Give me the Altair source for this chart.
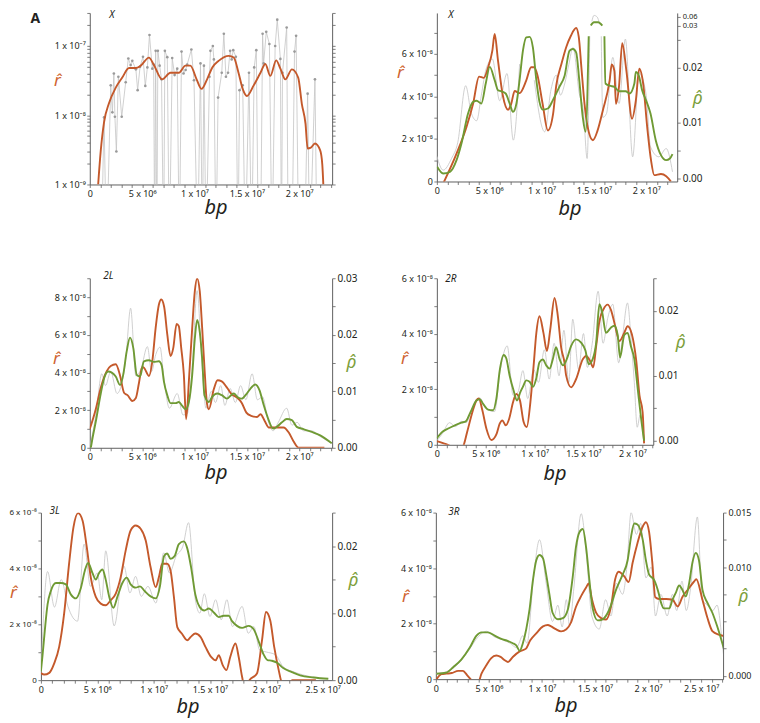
import altair as alt
import pandas as pd

# ---------------- data (x in Mb, r in units of 1e-8, rho raw) ----------------
# Panel X (log scale): smoothed r and raw windowed r (0 = no estimate / zero)
X_LOG_RED = [(0.8, 0.1), (1.05, 0.31), (1.36, 0.79), (1.84, 1.5), (2.48, 2.5), (3.1, 3.5), (3.75, 4.8),
             (4.4, 4.8), (4.86, 5.2), (5.65, 6.8), (6.1, 5.4), (6.9, 3.3), (7.7, 4.1), (8.5, 4.1),
             (9.14, 5.2), (9.6, 5.2), (10.2, 3.3), (10.67, 2.4), (11.2, 3.3), (11.7, 4.9), (12.3, 6.1),
             (13.27, 7.2), (13.75, 6.8), (14.2, 4.1), (14.6, 2.4), (15.0, 1.9), (15.65, 2.7), (16.3, 4.1),
             (16.76, 5.5), (17.24, 3.7), (17.8, 6.2), (18.2, 4.7), (18.67, 3.3), (19.3, 4.6), (19.9, 3.5),
             (20.25, 1.45), (20.6, 0.75), (20.8, 0.33), (21.1, 0.34), (21.5, 0.39), (22.0, 0.31),
             (22.2, 0.195), (22.3, 0.1)]
X_LOG_RAW = [(1.1, 0), (1.36, 0.93), (1.6, 0), (2.0, 2.7), (2.16, 1.1), (2.3, 4.0), (2.4, 0.95), (2.54, 0.3),
             (2.73, 3.6), (3.05, 0.95), (3.43, 3.0), (3.68, 6.6), (3.9, 5.3), (4.06, 6.1), (4.4, 4.6),
             (4.57, 2.3), (4.8, 5.0), (5.08, 7.0), (5.3, 2.65), (5.5, 4.9), (5.7, 14.4), (5.97, 4.7),
             (6.1, 5.4), (6.2, 0), (6.29, 8.5), (6.4, 0), (6.5, 8.5), (6.67, 5.2), (6.85, 3.3), (7.05, 0),
             (7.17, 8.5), (7.4, 6.9), (7.6, 0), (7.87, 6.7), (8.1, 3.8), (8.35, 4.7), (8.55, 0), (8.76, 8.3),
             (8.95, 4.0), (9.15, 4.5), (9.3, 5.4), (9.7, 8.9), (9.95, 3.2), (10.3, 0), (10.57, 5.6),
             (10.75, 0), (10.9, 5.2), (11.1, 0), (11.43, 3.6), (11.52, 8.5), (11.75, 10.0), (11.85, 6.4),
             (12.05, 0), (12.25, 1.8), (12.6, 4.1), (12.8, 15.0), (13.0, 3.6), (13.2, 4.1), (13.4, 8.5),
             (13.55, 6.4), (13.7, 8.7), (13.95, 7.0), (14.15, 0), (14.3, 2.3), (14.6, 2.7), (14.85, 0),
             (15.2, 4.1), (15.45, 0), (15.7, 4.9), (15.9, 8.7), (16.1, 0), (16.3, 0), (16.5, 15.0),
             (16.6, 5.6), (16.85, 16.0), (17.15, 10.7), (17.4, 0), (17.7, 10.0), (17.9, 24.0), (18.2, 6.5),
             (18.3, 0), (18.4, 4.1), (18.8, 18.5), (18.95, 0), (19.3, 0), (19.55, 8.3), (19.7, 14.0),
             (19.95, 0), (20.5, 0), (20.8, 2.05), (21.0, 0), (21.5, 3.3), (21.7, 0)]

# Panel X (linear, broken rho axis)
X_RED = [(0.6, -0.1), (1.88, 1.31), (2.83, 2.56), (3.46, 3.65), (4.03, 4.93), (4.48, 4.87), (4.9, 5.37),
         (5.3, 6.15), (5.52, 6.93), (5.84, 5.68), (6.3, 4.04), (6.8, 3.37), (7.1, 3.65), (7.43, 4.25),
         (7.9, 4.15), (8.54, 4.75), (9.0, 5.37), (9.3, 5.37), (9.6, 5.0), (10.1, 3.65), (10.6, 2.4),
         (11.1, 3.18), (11.4, 4.51), (11.9, 5.53), (12.35, 6.31), (12.8, 6.85), (13.3, 7.21), (13.55, 6.8),
         (13.8, 5.37), (14.1, 3.65), (14.4, 2.56), (14.9, 1.94), (15.35, 2.4), (15.85, 3.34), (16.5, 4.75),
         (16.7, 5.5), (16.95, 5.2), (17.1, 3.65), (17.4, 4.5), (17.7, 6.5), (18.1, 5.2), (18.64, 2.95),
         (19.0, 3.8), (19.33, 5.3), (19.7, 4.6), (20.1, 2.48), (20.45, 1.0), (20.76, 0.3), (21.4, 0.35),
         (21.9, 0.25), (22.35, 0.0)]
X_RHO = [(0.03, 0.0021), (0.6, 0.0009), (1.25, 0.0012), (1.88, 0.0033), (2.35, 0.0063), (2.98, 0.0117),
         (3.46, 0.0138), (3.8, 0.014), (4.25, 0.0135), (4.67, 0.0171), (5.05, 0.0201), (5.52, 0.0177),
         (5.84, 0.0159), (6.15, 0.0157), (6.57, 0.0153), (6.95, 0.0135), (7.27, 0.012), (7.6, 0.0135),
         (7.9, 0.0177), (8.22, 0.023), (8.54, 0.0254), (8.86, 0.0255), (9.17, 0.0236), (9.5, 0.0177),
         (9.8, 0.0138), (10.1, 0.0124), (10.6, 0.0126), (11.08, 0.0141), (11.7, 0.0165), (12.2, 0.0185),
         (12.67, 0.023), (13.0, 0.0233), (13.3, 0.0227), (13.6, 0.0177), (13.93, 0.0111), (14.2, 0.0084),
         (14.5, 0.0256), (14.55, 0.028), (14.7, 0.031), (15.0, 0.042), (15.4, 0.042), (15.8, 0.031),
         (15.85, 0.028), (16.0, 0.0256), (16.1, 0.0171), (16.5, 0.0167), (16.95, 0.0165), (17.4, 0.0157),
         (18.03, 0.0157), (18.4, 0.0153), (18.86, 0.0171), (19.0, 0.0192), (19.27, 0.0186), (19.6, 0.0159),
         (19.97, 0.0141), (20.4, 0.0117), (20.9, 0.0069), (21.4, 0.0042), (21.9, 0.0033), (22.25, 0.0036),
         (22.5, 0.0044)]
X_RHO_RAW = [(0.0, 0.004), (0.6, 0.0015), (1.4, 0.0036), (2.0, 0.0065), (2.75, 0.0167), (3.3, 0.0117),
             (3.8, 0.0104), (4.25, 0.015), (4.7, 0.0197), (5.3, 0.0215), (6.0, 0.014), (6.7, 0.0189),
             (7.3, 0.0069), (7.9, 0.0206), (8.5, 0.0257), (9.3, 0.0177), (10.3, 0.0084), (10.9, 0.016),
             (11.4, 0.0186), (11.8, 0.015), (12.2, 0.017), (12.6, 0.0205), (13.0, 0.0236), (13.6, 0.0153),
             (14.0, 0.012), (14.35, 0.0036), (14.6, 0.0256), (14.65, 0.028), (14.8, 0.045), (15.0, 0.065),
             (15.3, 0.06), (15.55, 0.035), (15.6, 0.028), (15.7, 0.0256), (15.85, 0.011), (16.2, 0.0117),
             (16.8, 0.0218), (17.4, 0.0135), (18.0, 0.0251), (18.7, 0.0039), (19.3, 0.019), (19.97, 0.0153),
             (20.4, 0.0057), (21.2, 0.0039), (21.9, 0.0054), (22.5, 0.0012)]

# Panel 2L
L2_RED = [(0.0, 1.0), (0.57, 2.05), (1.05, 3.2), (1.62, 4.08), (2.0, 4.35), (2.48, 4.44), (2.9, 3.82),
          (3.27, 2.93), (3.6, 2.8), (4.06, 2.49), (4.4, 2.65), (4.7, 3.46), (5.0, 4.3), (5.17, 4.26),
          (5.65, 3.82), (5.97, 4.6), (6.29, 6.38), (6.6, 7.62), (6.83, 7.89), (7.1, 7.5), (7.4, 6.03),
          (7.71, 4.88), (7.97, 5.3), (8.29, 6.59), (8.5, 6.47), (8.73, 5.32), (8.98, 3.91), (9.2, 1.52),
          (9.5, 3.9), (9.78, 6.38), (10.03, 8.33), (10.25, 9.0), (10.5, 8.33), (10.73, 6.38), (10.95, 4.26),
          (11.2, 2.32), (11.37, 2.05), (11.84, 3.11), (12.2, 3.59), (12.6, 3.53), (13.1, 3.2), (13.56, 2.84),
          (14.06, 2.67), (14.5, 2.4), (14.95, 1.87), (15.4, 1.7), (15.97, 1.64), (16.3, 1.78), (16.7, 1.43),
          (17.1, 1.08), (17.85, 1.08), (18.5, 1.08), (19.0, 0.81), (19.45, 0.35), (19.94, 0.0), (22.4, 0.0)]
L2_RHO = [(0.1, 0.0), (0.25, 0.0016), (0.57, 0.0046), (1.05, 0.0096), (1.37, 0.0123), (1.75, 0.0135),
          (2.1, 0.0133), (2.48, 0.0126), (2.9, 0.0111), (3.2, 0.013), (3.52, 0.017), (3.84, 0.0195),
          (4.16, 0.0176), (4.48, 0.0129), (4.8, 0.0126), (5.17, 0.0153), (5.65, 0.0155), (6.1, 0.0152),
          (6.6, 0.0153), (6.86, 0.0146), (7.08, 0.0117), (7.4, 0.0093), (7.7, 0.0079), (8.2, 0.0079),
          (8.5, 0.0081), (8.83, 0.0074), (9.14, 0.0068), (9.46, 0.0081), (9.78, 0.0129), (10.03, 0.0193),
          (10.25, 0.0226), (10.5, 0.0205), (10.73, 0.0158), (10.95, 0.0093), (11.37, 0.0081), (11.68, 0.009),
          (12.16, 0.0096), (12.6, 0.0093), (13.1, 0.0087), (13.5, 0.0093), (13.75, 0.0096), (14.1, 0.009),
          (14.5, 0.0087), (14.99, 0.0096), (15.5, 0.0108), (15.8, 0.0112), (16.2, 0.0102), (16.6, 0.0076),
          (17.08, 0.0049), (17.5, 0.0034), (17.85, 0.0037), (18.35, 0.0045), (18.8, 0.0051), (19.3, 0.0049),
          (19.76, 0.0037), (20.4, 0.0033), (21.2, 0.0028), (22.0, 0.0022), (23.1, 0.0008)]
L2_RHO_RAW = [(0.0, 0.0), (0.6, 0.006), (1.15, 0.0131), (1.5, 0.011), (2.0, 0.0135), (2.6, 0.0096),
              (3.0, 0.011), (3.45, 0.016), (3.9, 0.0247), (4.4, 0.0127), (4.9, 0.014), (5.5, 0.0179),
              (5.9, 0.0135), (6.3, 0.0165), (6.7, 0.0178), (7.1, 0.012), (7.6, 0.007), (8.35, 0.0096),
              (8.9, 0.0058), (9.3, 0.006), (9.8, 0.015), (10.25, 0.0278), (10.7, 0.015), (11.1, 0.007),
              (11.6, 0.01), (12.0, 0.008), (12.5, 0.011), (12.9, 0.0075), (13.4, 0.0105), (13.9, 0.008),
              (14.4, 0.011), (14.9, 0.0085), (15.5, 0.0131), (16.0, 0.0085), (16.5, 0.009), (17.0, 0.005),
              (17.5, 0.003), (18.0, 0.0045), (18.8, 0.007), (19.3, 0.004), (19.8, 0.0045), (20.4, 0.003),
              (21.2, 0.003), (22.0, 0.002), (23.1, 0.0008)]

# Panel 2R
R2_RED = [(0.0, 0.13), (0.7, 0.05), (1.33, -0.04), (2.0, -0.3), (2.7, -0.05), (3.1, 0.46), (3.64, 1.18),
          (4.05, 1.6), (4.3, 1.67), (4.65, 1.25), (5.07, 0.58), (5.58, 0.17), (6.1, 0.38), (6.43, 0.76),
          (6.7, 0.88), (7.05, 0.7), (7.4, 0.94), (7.8, 1.54), (8.13, 1.83), (8.5, 1.6), (8.88, 0.82),
          (9.2, 0.64), (9.57, 1.54), (9.9, 2.85), (10.17, 4.0), (10.5, 4.63), (10.9, 4.04), (11.26, 3.38),
          (11.6, 4.15), (12.04, 5.29), (12.38, 4.63), (12.72, 3.5), (13.06, 2.96), (13.23, 2.49),
          (13.74, 2.07), (14.25, 2.37), (14.93, 3.08), (15.27, 3.2), (15.68, 3.02), (16.0, 2.79),
          (16.3, 3.56), (16.63, 4.45), (17.03, 4.87), (17.48, 5.05), (17.8, 4.87), (18.25, 4.27),
          (18.67, 3.74), (19.18, 4.04), (19.52, 4.27), (19.95, 3.98), (20.4, 3.02), (20.73, 1.78),
          (21.05, 1.18), (21.2, 0.05)]
R2_RHO = [(0.0, 0.0004), (0.5, 0.0013), (1.16, 0.0019), (1.84, 0.0024), (2.52, 0.0028), (2.96, 0.003),
          (3.44, 0.0044), (4.05, 0.0062), (4.39, 0.0064), (4.73, 0.0057), (5.24, 0.0048), (5.75, 0.0047),
          (6.09, 0.0065), (6.43, 0.0108), (6.84, 0.0132), (7.1, 0.0127), (7.45, 0.01), (7.86, 0.0077),
          (8.2, 0.0062), (8.54, 0.0075), (8.8, 0.0083), (9.15, 0.0093), (9.49, 0.0091), (9.83, 0.0083),
          (10.17, 0.0096), (10.5, 0.0121), (10.85, 0.0125), (11.19, 0.0116), (11.53, 0.0111), (11.87, 0.0126),
          (12.2, 0.0144), (12.55, 0.0126), (12.9, 0.0116), (13.3, 0.0126), (13.74, 0.0146), (14.25, 0.0156),
          (14.76, 0.0151), (15.2, 0.0139), (15.54, 0.0118), (15.95, 0.0126), (16.3, 0.0151), (16.63, 0.021),
          (16.9, 0.0199), (17.3, 0.0166), (17.8, 0.0174), (18.16, 0.0177), (18.5, 0.0163), (18.74, 0.0128),
          (19.18, 0.0163), (19.52, 0.0166), (19.86, 0.0145), (20.2, 0.0126), (20.55, 0.008), (20.9, 0.0034),
          (21.2, 0.0)]
R2_RHO_RAW = [(0.0, 0.0), (0.6, 0.0012), (1.3, 0.0028), (1.9, 0.0022), (2.5, 0.003), (3.0, 0.0028),
              (3.6, 0.005), (4.4, 0.0066), (5.0, 0.005), (5.9, 0.0045), (6.5, 0.011), (7.2, 0.0146),
              (7.8, 0.007), (8.3, 0.0075), (8.8, 0.0108), (9.3, 0.0065), (9.9, 0.011), (10.4, 0.009),
              (11.0, 0.014), (11.5, 0.0095), (12.0, 0.015), (12.5, 0.01), (13.0, 0.017), (13.5, 0.009),
              (13.9, 0.0187), (14.5, 0.011), (15.0, 0.0165), (15.4, 0.0113), (15.9, 0.015), (16.5, 0.023),
              (17.0, 0.015), (17.5, 0.019), (18.0, 0.021), (18.6, 0.012), (19.0, 0.016), (19.5, 0.0212),
              (19.9, 0.015), (20.2, 0.009), (20.5, 0.0021), (20.8, 0.004), (21.2, 0.0)]

# Panel 3L
L3_RED = [(0.0, 0.26), (0.3, 0.2), (0.74, 0.26), (1.18, 0.6), (1.62, 1.19), (2.06, 2.38), (2.5, 4.17),
          (2.89, 5.48), (3.3, 5.98), (3.7, 5.71), (4.07, 4.76), (4.42, 3.69), (4.87, 2.98), (5.31, 2.74),
          (5.75, 2.68), (6.19, 2.86), (6.64, 3.1), (7.08, 3.69), (7.52, 4.64), (7.96, 5.36), (8.41, 5.54),
          (8.85, 5.42), (9.3, 5.0), (9.73, 4.05), (10.18, 3.33), (10.47, 3.69), (10.77, 4.17), (11.2, 4.17),
          (11.5, 3.93), (11.8, 2.98), (12.1, 1.9), (12.5, 1.67), (12.98, 1.43), (13.3, 1.55), (13.7, 1.67),
          (14.16, 1.55), (14.6, 1.19), (15.1, 0.83), (15.5, 0.71), (15.78, 0.89), (16.13, 0.54),
          (16.46, 0.36), (16.8, 0.83), (17.26, 1.31), (17.55, 0.83), (17.85, 0.12), (18.1, -0.3),
          (18.5, 0.0), (19.17, 0.24), (19.62, 1.43), (19.97, 2.44), (20.35, 2.14), (20.7, 1.19),
          (21.1, 0.36), (21.4, -0.1), (21.9, -0.15), (22.3, 0.0), (24.4, 0.0)]
L3_RHO = [(0.0, 0.0013), (0.15, 0.0038), (0.35, 0.0075), (0.59, 0.0113), (0.88, 0.0133), (1.33, 0.0145),
          (1.77, 0.0145), (2.21, 0.0143), (2.65, 0.0128), (3.1, 0.0122), (3.54, 0.0137), (3.89, 0.0163),
          (4.19, 0.0175), (4.57, 0.016), (4.87, 0.015), (5.16, 0.016), (5.46, 0.0165), (5.75, 0.015),
          (6.05, 0.0125), (6.43, 0.0108), (6.8, 0.0125), (7.23, 0.0145), (7.61, 0.0153), (7.96, 0.0143),
          (8.41, 0.0138), (8.79, 0.014), (9.2, 0.0133), (9.73, 0.0125), (10.18, 0.0122), (10.56, 0.014),
          (10.92, 0.0185), (11.2, 0.0189), (11.5, 0.0181), (11.86, 0.0185), (12.24, 0.0203), (12.68, 0.0207),
          (12.98, 0.0197), (13.33, 0.0168), (13.7, 0.0128), (14.1, 0.0109), (14.5, 0.0104), (14.9, 0.0107),
          (15.34, 0.0101), (15.78, 0.0094), (16.22, 0.0096), (16.67, 0.0096), (16.96, 0.0088), (17.4, 0.0081),
          (17.85, 0.0078), (18.44, 0.0081), (18.88, 0.0076), (19.32, 0.0058), (19.77, 0.0038), (20.1, 0.003),
          (20.5, 0.0029), (20.96, 0.0026), (21.5, 0.0018), (22.27, 0.0012), (23.0, 0.0007), (24.2, 0.0004),
          (25.5, 0.0002)]
L3_RHO_RAW = [(0.0, 0.001), (0.59, 0.0162), (1.2, 0.0109), (1.8, 0.015), (2.4, 0.011), (3.25, 0.0088),
              (3.83, 0.0203), (4.4, 0.014), (5.0, 0.016), (5.4, 0.012), (5.75, 0.0193), (6.5, 0.0081),
              (7.37, 0.017), (7.9, 0.013), (8.4, 0.0155), (8.9, 0.0125), (9.5, 0.014), (10.2, 0.0115),
              (10.9, 0.019), (11.4, 0.016), (12.0, 0.0185), (12.6, 0.02), (13.1, 0.0235), (13.7, 0.012),
              (14.1, 0.01), (14.5, 0.0129), (15.0, 0.0095), (15.5, 0.012), (16.0, 0.009), (16.5, 0.012),
              (17.0, 0.008), (17.85, 0.011), (18.4, 0.007), (18.9, 0.008), (19.4, 0.0045), (20.0, 0.0042),
              (20.8, 0.0038), (21.5, 0.002), (22.5, 0.0012), (24.0, 0.0005), (25.5, 0.0002)]

# Panel 3R
R3_RED = [(0.06, 0.0), (0.53, 0.18), (1.0, 0.2), (1.5, 0.22), (2.1, 0.3), (2.54, 0.3), (3.0, 0.12),
          (3.5, -0.1), (3.88, -0.25), (4.3, 0.2), (4.76, 0.5), (5.2, 0.75), (5.7, 0.85), (6.1, 0.8),
          (6.5, 0.68), (6.8, 0.62), (7.25, 0.8), (7.9, 1.0), (8.5, 1.1), (8.9, 1.4), (9.46, 1.65),
          (10.1, 1.9), (10.55, 1.95), (10.86, 1.9), (11.3, 1.8), (11.8, 1.72), (12.3, 1.8), (12.75, 2.05),
          (13.2, 2.6), (13.7, 3.0), (14.16, 3.3), (14.4, 3.45), (14.7, 2.9), (15.1, 2.4), (15.57, 2.2),
          (16.04, 2.15), (16.5, 2.6), (16.9, 3.6), (17.23, 3.87), (17.76, 3.7), (18.17, 3.5), (18.55, 4.2),
          (19.0, 4.9), (19.5, 5.5), (19.8, 5.65), (20.1, 5.3), (20.4, 4.2), (20.68, 2.95), (21.05, 2.89),
          (21.7, 2.89), (22.3, 2.86), (22.8, 2.62), (23.26, 2.98), (23.7, 3.2), (24.3, 3.5), (24.55, 3.6),
          (25.1, 2.9), (25.6, 2.2), (26.06, 1.73), (26.7, 1.6), (27.3, 1.55), (27.45, 1.57)]
R3_RHO = [(0.06, 0.0002), (1.0, 0.0003), (1.63, 0.0008), (2.4, 0.0015), (3.2, 0.0026), (3.83, 0.0037),
          (4.3, 0.004), (4.9, 0.004), (5.54, 0.0037), (6.17, 0.0034), (6.8, 0.0032), (7.25, 0.003),
          (7.58, 0.0028), (7.9, 0.0023), (8.2, 0.003), (8.52, 0.0043), (8.83, 0.0061), (9.15, 0.0088),
          (9.46, 0.0106), (9.77, 0.0111), (10.1, 0.0108), (10.4, 0.0093), (10.7, 0.0075), (11.0, 0.0058),
          (11.5, 0.0052), (11.97, 0.0053), (12.44, 0.0061), (12.9, 0.0091), (13.2, 0.0118), (13.53, 0.0132),
          (13.85, 0.0135), (14.16, 0.0118), (14.47, 0.0088), (14.78, 0.0062), (15.25, 0.0051), (15.72, 0.0052),
          (16.35, 0.0061), (16.98, 0.0079), (17.6, 0.0093), (18.07, 0.0106), (18.4, 0.0128), (18.7, 0.014),
          (19.0, 0.0139), (19.5, 0.0125), (19.8, 0.0106), (20.1, 0.0093), (20.58, 0.0088), (21.0, 0.0076),
          (21.2, 0.0068), (21.5, 0.0062), (22.0, 0.0062), (22.3, 0.007), (22.6, 0.0076), (22.93, 0.0083),
          (23.24, 0.0079), (23.56, 0.0073), (23.87, 0.0085), (24.2, 0.0105), (24.5, 0.0113), (24.8, 0.0106),
          (25.13, 0.0079), (25.6, 0.0067), (26.06, 0.0058), (26.5, 0.0046), (27.0, 0.003), (27.5, 0.0012)]
R3_RHO_RAW = [(0.0, 0.0002), (1.0, 0.0004), (2.0, 0.001), (3.0, 0.0022), (4.0, 0.0036), (4.76, 0.0041),
              (5.5, 0.0036), (6.3, 0.0033), (7.0, 0.003), (7.6, 0.0026), (8.2, 0.0037), (8.6, 0.003),
              (9.2, 0.009), (9.77, 0.0125), (10.4, 0.0085), (11.0, 0.005), (11.5, 0.0065), (11.9, 0.0045),
              (12.3, 0.007), (12.6, 0.0046), (13.0, 0.008), (13.7, 0.0149), (14.2, 0.011), (14.7, 0.0055),
              (15.4, 0.0043), (16.0, 0.007), (16.5, 0.0055), (17.0, 0.0085), (17.6, 0.0075), (18.0, 0.01),
              (18.4, 0.015), (18.9, 0.013), (19.3, 0.014), (19.8, 0.009), (20.3, 0.01), (20.7, 0.0055),
              (21.2, 0.0075), (21.8, 0.0055), (22.3, 0.0075), (22.7, 0.006), (23.2, 0.0087), (23.6, 0.006),
              (24.0, 0.008), (24.65, 0.0146), (25.1, 0.007), (25.6, 0.0065), (26.1, 0.006), (26.5, 0.0065),
              (27.0, 0.003), (27.3, 0.0)]

# ---------------- styling ----------------
FONT = "Noto Sans"
RED = "#c4592b"
GREEN = "#6f9a34"
GRAY = "#c4c4c4"
AXC = "#5f5f5f"
TXT = "#231f20"
RHAT = "r\u0302"
RHOHAT = "\u03c1\u0302"

X_EXPR = ("datum.value == 0 ? '0' : (datum.value % 5 != 0 ? '' : (datum.value < 10 ? "
          "datum.value + ' x 10\u2076' : (datum.value / 10) + ' x 10\u2077'))")
R_EXPR = "datum.value == 0 ? '0' : (datum.value % 2 != 0 ? '' : datum.value + ' x 10\u207b\u2078')"
RHO_EXPR = "abs(datum.value * 100 - round(datum.value * 100)) < 0.001 ? format(datum.value, '.2f') : ''"
RHO_BROKEN_EXPR = ("datum.value > 0.0285 ? '0.06' : (datum.value > 0.027 ? '0.03' : (" + RHO_EXPR + "))")
RHO3_EXPR = ("abs(datum.value) < 1e-9 ? '0.000' : (abs(datum.value - 0.01) < 1e-9 ? '0.010' : "
             "(abs(datum.value - 0.015) < 1e-9 ? '0.015' : ''))")
LOG_EXPR = ("datum.value == 10 ? '1 x 10\u207b\u2077' : (datum.value == 1 ? '1 x 10\u207b\u2078' : "
            "(datum.value == 0.1 ? '1 x 10\u207b\u2079' : ''))")
BROKEN_CALC = ("datum.rho <= 0.0256 ? datum.rho : (datum.rho >= 0.03 ? "
               "0.02747 + (datum.rho - 0.03) * 0.054 : null)")
LOG_VALUES = [0.1, 0.2, 0.3, 0.4, 0.5, 0.6, 0.7, 0.8, 0.9, 1, 2, 3, 4, 5, 6, 7, 8, 9, 10, 20, 30]


def xscale(xmax):
    return alt.Scale(domain=[0, xmax], nice=False, zero=False)


def label_axis(text, tx, ty, size=10, weight="normal", style="italic"):
    return alt.Axis(orient="top", domain=False, ticks=False, labels=False, grid=False,
                    title=text, titleX=tx, titleY=ty, titleAngle=0, titleAlign="left",
                    titleBaseline="top", titleFont=FONT, titleFontSize=size, titleFontStyle=style,
                    titleFontWeight=weight, titleColor=TXT)


def bottom_axis(xmax, bx, by, lfs):
    return alt.Axis(orient="bottom", values=list(range(0, int(xmax) + 1)), labelExpr=X_EXPR,
                    tickSize=3, labelPadding=2, labelFontSize=lfs, labelFlush=False,
                    labelOverlap=False, grid=False, title="bp", titleX=bx, titleY=by, titleAngle=0,
                    titleAlign="center", titleBaseline="alphabetic", titleFont=FONT, titleFontSize=20,
                    titleFontStyle="italic", titleFontWeight="normal", titleColor=TXT)


def left_axis(vals, expr, tx, ty, lfs, title=RHAT):
    return alt.Axis(orient="left", values=vals, labelExpr=expr, tickSize=3, labelPadding=1.5,
                    labelFontSize=lfs, labelOverlap=False, grid=False, title=title, titleX=tx,
                    titleY=ty, titleAngle=0, titleAlign="center", titleBaseline="middle",
                    titleFont=FONT, titleFontSize=17, titleFontStyle="italic",
                    titleFontWeight="normal", titleColor="#cf6430")


def right_axis(vals, expr, tx, ty, lfs):
    return alt.Axis(orient="right", values=vals, labelExpr=expr, tickSize=3, labelPadding=2,
                    labelFontSize=lfs, labelOverlap=False, grid=False, title=RHOHAT, titleX=tx,
                    titleY=ty, titleAngle=0, titleAlign="center", titleBaseline="middle",
                    titleFont=FONT, titleFontSize=18, titleFontStyle="italic",
                    titleFontWeight="normal", titleColor="#7d9f3c")


def panel(red, rho, raw, xmax, rtop, rho_dom, w, h, label, lab_xy, rhat_xy, rho_xy, bp_xy,
          right_vals, right_expr, calc="datum.rho", lfs_left=9, lfs_x=9, lfs_right=10):
    xs = xscale(xmax)
    rs = alt.Scale(domain=rho_dom, nice=False, zero=False)
    gray = (alt.Chart(pd.DataFrame(raw, columns=["mb", "rho"]))
            .transform_calculate(d=calc)
            .mark_line(color=GRAY, strokeWidth=0.8, interpolate="monotone", clip=True)
            .encode(x=alt.X("mb:Q", scale=xs, axis=label_axis(label, *lab_xy)),
                    y=alt.Y("d:Q", scale=rs, axis=None)))
    redl = (alt.Chart(pd.DataFrame(red, columns=["mb", "r"]))
            .mark_line(color=RED, strokeWidth=1.9, interpolate="monotone", clip=True)
            .encode(x=alt.X("mb:Q", scale=xs, axis=bottom_axis(xmax, bp_xy[0], bp_xy[1], lfs_x)),
                    y=alt.Y("r:Q", scale=alt.Scale(domain=[0, rtop], nice=False, zero=False),
                            axis=left_axis(list(range(0, int(rtop + 1e-6) + 1)), R_EXPR,
                                           rhat_xy[0], rhat_xy[1], lfs_left))))
    greenl = (alt.Chart(pd.DataFrame(rho, columns=["mb", "rho"]))
              .transform_calculate(d=calc)
              .mark_line(color=GREEN, strokeWidth=1.9, interpolate="monotone", clip=True)
              .encode(x=alt.X("mb:Q", scale=xs, axis=None),
                      y=alt.Y("d:Q", scale=rs,
                              axis=right_axis(right_vals, right_expr, rho_xy[0], rho_xy[1], lfs_right))))
    return (alt.layer(gray, redl, greenl)
            .resolve_scale(x="independent", y="independent")
            .properties(width=w, height=h))


def panel_log():
    xmax = 23.14
    xs = xscale(xmax)
    ys = alt.Scale(type="log", domain=[0.1, 30], nice=False)
    base = alt.Chart(pd.DataFrame(X_LOG_RAW, columns=["mb", "r"]))
    line = (base.transform_calculate(rd="max(datum.r, 0.01)")
            .mark_line(color=GRAY, strokeWidth=0.8, clip=True)
            .encode(x=alt.X("mb:Q", scale=xs, axis=label_axis("X", 19, -3)),
                    y=alt.Y("rd:Q", scale=ys,
                            axis=left_axis(LOG_VALUES, LOG_EXPR, -33, 68, 9))))
    pts = (base.transform_filter("datum.r > 0")
           .mark_point(filled=True, size=7, color="#9a9a9a", opacity=1, clip=True)
           .encode(x=alt.X("mb:Q", scale=xs, axis=None),
                   y=alt.Y("r:Q", scale=ys, axis=None)))
    red = (alt.Chart(pd.DataFrame(X_LOG_RED, columns=["mb", "r"]))
           .mark_line(color=RED, strokeWidth=1.9, interpolate="monotone", clip=True)
           .encode(x=alt.X("mb:Q", scale=xs, axis=bottom_axis(xmax, 126, 29, 9)),
                   y=alt.Y("r:Q", scale=ys,
                           axis=alt.Axis(orient="right", values=LOG_VALUES, labels=False, tickSize=3,
                                         grid=False, title=None))))
    return (alt.layer(line, pts, red)
            .resolve_scale(x="independent", y="independent")
            .properties(width=243, height=172))


SPACER_DATA = pd.DataFrame({"s": [0], "s2": [1]})


def spacer(w, h, label=None):
    if label is None:
        ax = None
    else:
        ax = label_axis(label, 21, -1, size=14, weight="bold", style="normal")
    return (alt.Chart(SPACER_DATA).mark_rect()
            .encode(x=alt.X("s:Q", scale=alt.Scale(domain=[0, 1], nice=False), axis=ax),
                    x2="s2:Q", opacity=alt.value(0))
            .properties(width=w, height=h))


p1 = panel_log()
p2 = panel(X_RED, X_RHO, X_RHO_RAW, 22.95, 7.92, [-0.00054, 0.0298], 241, 169, "X",
           (11, -3), (-37, 60), (20, 86), (133, 33),
           [0, 0.005, 0.01, 0.015, 0.02, 0.025, 0.02747, 0.02909], RHO_BROKEN_EXPR, calc=BROKEN_CALC,
           lfs_right={"condition": {"test": "datum.value > 0.027", "value": 7.5}, "value": 10})
p3 = panel(L2_RED, L2_RHO, L2_RHO_RAW, 23.14, 9.02, [0, 0.03], 243, 170, "2L",
           (13, -8), (-34, 80), (19, 85), (126, 31),
           [0, 0.005, 0.01, 0.015, 0.02, 0.025, 0.03], RHO_EXPR)
p4 = panel(R2_RED, R2_RHO, R2_RHO_RAW, 22.14, 6.0, [-0.0006, 0.025], 217, 167, "2R",
           (8, -5), (-33, 80), (27, 64), (118, 35),
           [0, 0.005, 0.01, 0.015, 0.02, 0.025], RHO_EXPR)
p5 = panel(L3_RED, L3_RHO, L3_RHO_RAW, 25.84, 6.0, [0, 0.025], 292, 168, "3L",
           (8, -7), (-28, 80), (21, 68), (147, 32),
           [0, 0.005, 0.01, 0.015, 0.02, 0.025], RHO_EXPR, lfs_left=8)
p6 = panel(R3_RED, R3_RHO, R3_RHO_RAW, 27.07, 6.0, [-0.0003, 0.015], 288, 167, "3R",
           (12, -6), (-31, 84), (20, 84), (130, 32),
           [0, 0.0025, 0.005, 0.0075, 0.01, 0.0125, 0.015], RHO3_EXPR, lfs_right=9)

row1 = alt.hconcat(spacer(81, 258, "A"), p1, spacer(105, 10), p2, spacing=0, bounds="flush")
row2 = alt.hconcat(spacer(81, 228), p3, spacer(105, 10), p4, spacing=0, bounds="flush")
row3 = alt.hconcat(spacer(32, 10), p5, spacer(104, 10), p6, spacing=0, bounds="flush")

chart = (alt.vconcat(row1, row2, row3, spacing=0)
         .properties(padding={"left": 0, "top": 0, "right": 0, "bottom": 5}, background="white")
         .configure_view(strokeWidth=0)
         .configure_axis(labelFont=FONT, labelColor=TXT, domainColor=AXC, tickColor=AXC,
                         domainWidth=1, tickWidth=0.8))

chart.save("out.html", embed_options={"renderer": "svg", "actions": False})
